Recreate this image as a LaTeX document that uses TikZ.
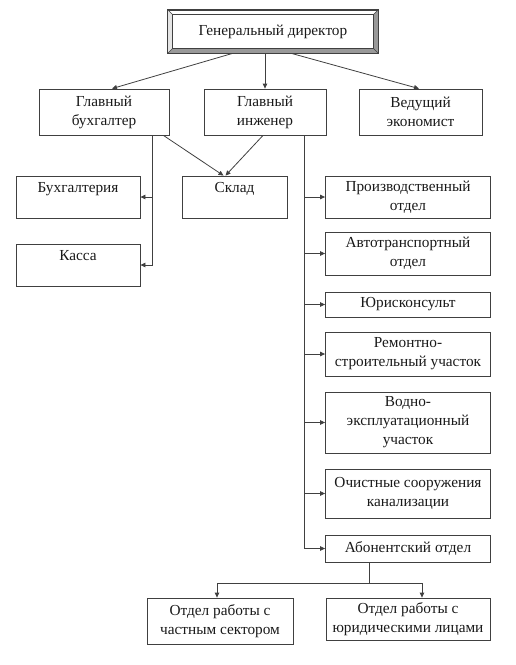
\documentclass[tikz,border=0pt]{standalone}
\usepackage{fontspec}
\setmainfont{Liberation Serif}
\usetikzlibrary{arrows.meta,calc}
\begin{document}
\begin{tikzpicture}[x=1pt,y=-1pt,
  box/.style={draw=black!75,line width=0.8pt,inner sep=0pt,align=center,
    font=\fontsize{15.3}{19}\selectfont,text=black!90},
  arr/.style={draw=black!75,line width=0.8pt,-{Triangle[length=5pt,width=4.5pt]}},
  ln/.style={draw=black!75,line width=0.8pt}]
\useasboundingbox (0,0) rectangle (516,665);
% top bevel box
\node[box,minimum width=210,minimum height=43] (gd) at (273,31.5) {Генеральный директор};
\fill[black!40] (gd.south west) -- (gd.south east) -- ($(gd.south east)+(-5,-5)$) -- ($(gd.south west)+(5,-5)$) -- cycle;
\fill[black!40] (gd.north east) -- (gd.south east) -- ($(gd.south east)+(-5,-5)$) -- ($(gd.north east)+(-5,5)$) -- cycle;
\fill[black!10] (gd.north west) -- (gd.south west) -- ($(gd.south west)+(5,-5)$) -- ($(gd.north west)+(5,5)$) -- cycle;
\draw[ln] (gd.north west) rectangle (gd.south east);
\draw[ln] ($(gd.north west)+(5,5)$) rectangle ($(gd.south east)+(-5,-5)$);
\draw[ln,line width=0.5pt] (gd.north west) -- ++(5,5) (gd.north east) -- ++(-5,5)
  (gd.south west) -- ++(5,-5) (gd.south east) -- ++(-5,-5);
% level 2
\node[box,minimum width=130,minimum height=46] (buh) at (104,112) {Главный\\бухгалтер};
\node[box,minimum width=122,minimum height=46] (inj) at (265,112) {Главный\\инженер};
\node[box,minimum width=123,minimum height=46] (eco) at (420.5,112) {Ведущий\\экономист};
% left column
\node[box,minimum width=124,minimum height=42] (buhg) at (78,197) {Бухгалтерия\\~};
\node[box,minimum width=124,minimum height=42] (kassa) at (78,265) {Касса\\~};
\node[box,minimum width=105,minimum height=42] (sklad) at (234.5,197) {Склад\\~};
% right column
\node[box,minimum width=165,minimum height=42] (proizv) at (408,197) {Производственный\\отдел};
\node[box,minimum width=165,minimum height=43] (avto) at (408,253.5) {Автотранспортный\\отдел};
\node[box,minimum width=165,minimum height=25] (jur) at (408,304.5) {Юрисконсульт};
\node[box,minimum width=165,minimum height=44] (remont) at (408,354) {Ремонтно-\\строительный участок};
\node[box,minimum width=165,minimum height=61] (vodno) at (408,422.5) {Водно-\\эксплуатационный\\участок};
\node[box,minimum width=165,minimum height=49] (ochist) at (408,493.5) {Очистные сооружения\\канализации};
\node[box,minimum width=165,minimum height=27] (abon) at (408,548.5) {Абонентский отдел};
% bottom
\node[box,minimum width=146,minimum height=46] (chast) at (220,621) {Отдел работы с\\частным сектором};
\node[box,minimum width=164,minimum height=42] (yurl) at (408,619) {Отдел работы с\\юридическими лицами};
% connectors from top
\draw[arr] ($(gd.south)+(-40.5,0)$) -- ($(buh.north)+(8,0)$);
\draw[arr] (inj.north |- gd.south) -- (inj.north);
\draw[arr] ($(gd.south)+(18.5,0)$) -- ($(eco.north)+(-1.5,0)$);
% accountant branch
\coordinate (bx) at ($(buh.south east)+(-17,0)$);
\draw[arr] (bx) |- (kassa.east);
\draw[arr] (buhg.east -| bx) -- (buhg.east);
\draw[arr] ($(buh.south east)+(-6,0)$) -- ($(sklad.north)+(-11,0)$);
\draw[arr] ($(inj.south)+(-2,0)$) -- ($(sklad.north)+(-9,0)$);
% engineer branch
\coordinate (ix) at ($(inj.south east)+(-22,0)$);
\draw[arr] (ix) |- (abon.west);
\foreach \n in {proizv,avto,jur,remont,vodno,ochist}
  \draw[arr] (\n.west -| ix) -- (\n.west);
% subscriber branch
\coordinate (ax) at ($(abon.south)+(-39,0)$);
\coordinate (am) at ($(ax)+(0,21)$);
\draw[ln] (ax) -- (am);
\draw[arr] (am) -| ($(chast.north)+(-3,0)$);
\draw[arr] (am) -| ($(yurl.north)+(14,0)$);
\end{tikzpicture}
\end{document}
